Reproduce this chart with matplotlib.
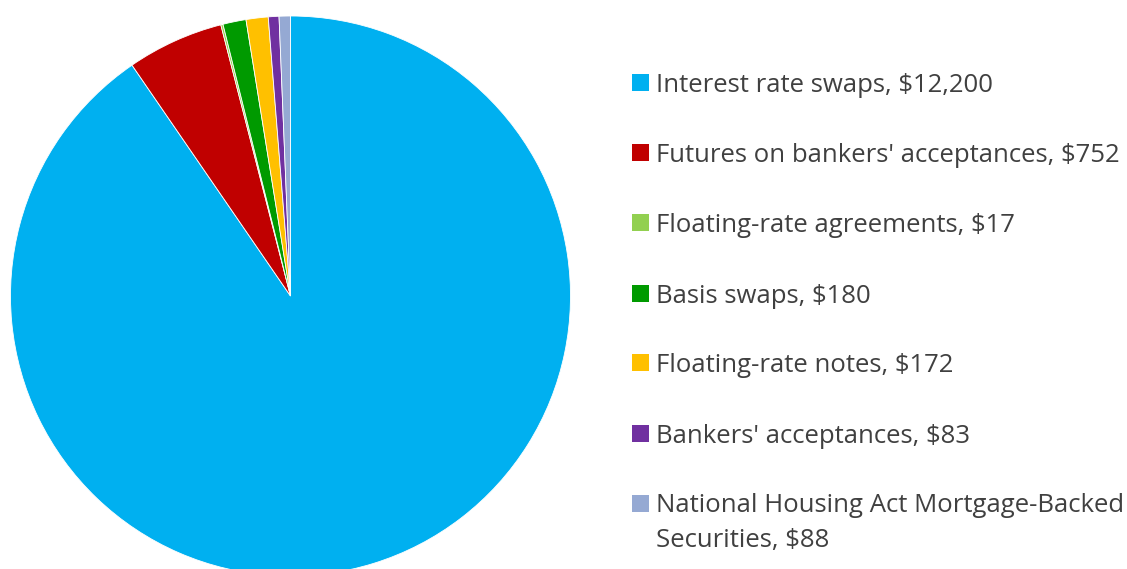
import matplotlib
matplotlib.use("Agg")
import matplotlib.pyplot as plt
from matplotlib.patches import Rectangle

categories = ["Interest rate swaps", "Futures on bankers' acceptances", "Floating-rate agreements",
              "Basis swaps", "Floating-rate notes", "Bankers' acceptances",
              "National Housing Act Mortgage-Backed Securities"]
values = [12200, 752, 17, 180, 172, 83, 88]
labels = ["Interest rate swaps, $12,200", "Futures on bankers' acceptances, $752",
          "Floating-rate agreements, $17", "Basis swaps, $180", "Floating-rate notes, $172",
          "Bankers' acceptances, $83", "National Housing Act Mortgage-Backed\nSecurities, $88"]
colors = ["#00B0F0", "#C00000", "#92D050", "#009A00", "#FFC000", "#7030A0", "#95A9D3"]

W, H = 1127, 569
fig = plt.figure(figsize=(W / 100, H / 100), dpi=100)
ax = fig.add_axes([10.5 / W, -7 / H, 560 / W, 560 / H])
ax.pie(values, colors=colors, startangle=90, counterclock=False, radius=1,
       wedgeprops=dict(edgecolor="white", linewidth=0.6))
ax.set_xlim(-1, 1)
ax.set_ylim(-1, 1)
ax.set_aspect("equal")
ax.axis("off")

row_y = [82.5, 152.5, 222.5, 293.5, 362.5, 433.5, 503]
line_gap = 35
for lab, col, yc in zip(labels, colors, row_y):
    fig.patches.append(Rectangle((632 / W, 1 - (yc + 8.5) / H), 17 / W, 17 / H,
                                 transform=fig.transFigure, facecolor=col, edgecolor="none"))
    for i, line in enumerate(lab.split("\n")):
        base = yc + 9.5 + i * line_gap
        fig.text(656 / W, 1 - base / H, line, fontsize=18.5, family="Open Sans",
                 color="#404040", va="baseline", ha="left")

fig.savefig("out.png", dpi=100)
